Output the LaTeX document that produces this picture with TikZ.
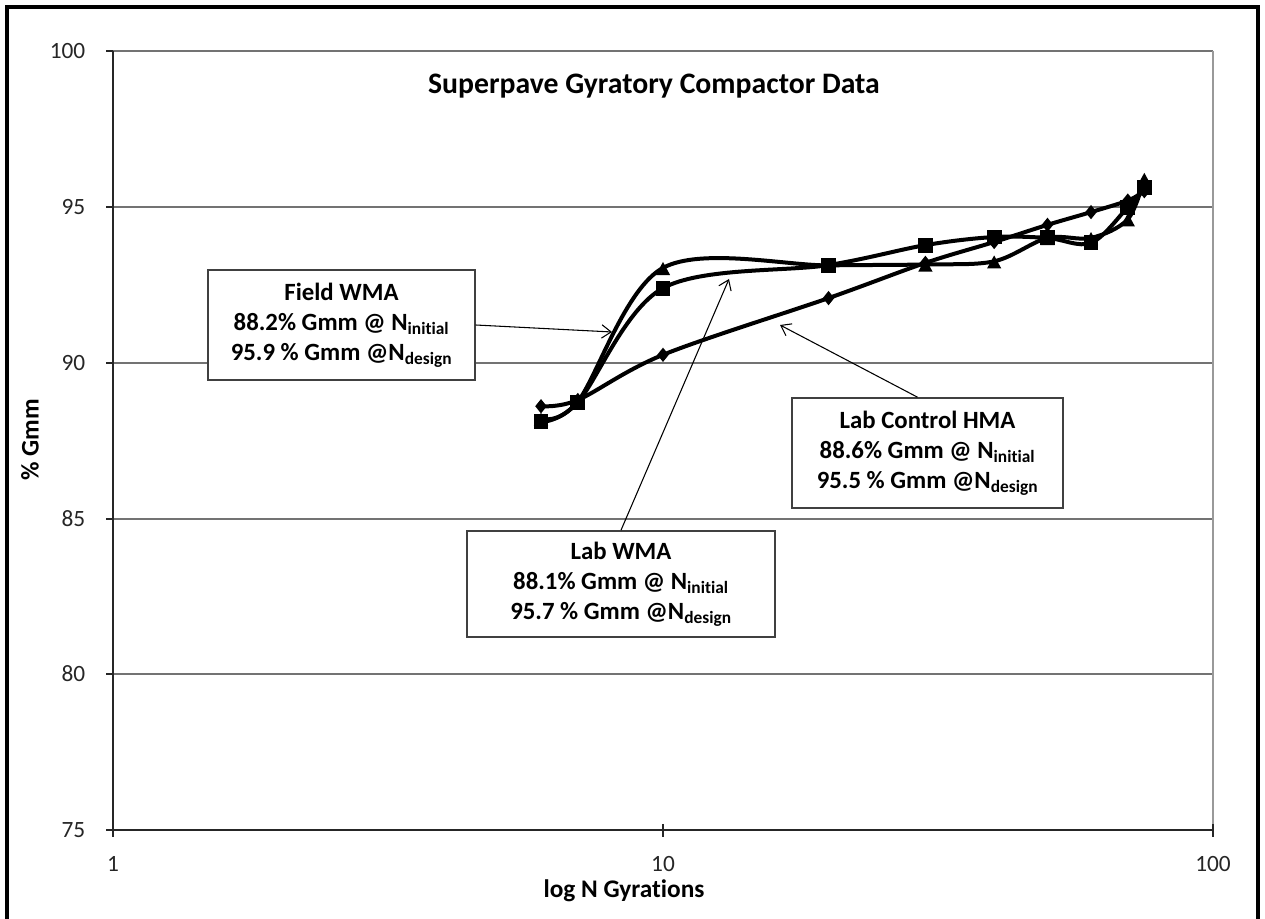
\documentclass[tikz,border=0pt]{standalone}
\usepackage{fontspec}
\setmainfont{Carlito}[Ligatures=NoCommon]
\usetikzlibrary{arrows.meta}
\tikzset{
  grid line/.style={draw=black!55, line width=1.6pt},
  axis line/.style={draw=black!85, line width=1.6pt},
  series/.style={line width=3pt, black, line join=round, line cap=round},
  callout/.style={draw=black!75, line width=1.2pt, fill=white, align=center,
    inner sep=0pt, font=\bfseries\fontsize{18.6}{22.5}\selectfont},
  pointer/.style={draw=black, line width=0.8pt, -{Straight Barb[length=7pt,width=10pt,line width=0.8pt]}},
  ticklab/.style={font=\fontsize{17.5}{20}\selectfont, text=black!85},
  axtitle/.style={font=\bfseries\fontsize{19}{22}\selectfont},
}
\begin{document}
\begin{tikzpicture}[x=0.75pt,y=-0.75pt]
\useasboundingbox (0,0) rectangle (1265,919);
\fill[white] (0,0) rectangle (1265,919);
% outer frame (bottom edge lies outside the picture)
\draw[line width=3.5pt] (7,940) -- (7,7) -- (1258,7) -- (1258,940);
% grid
\foreach \yy in {51,207,363,519,674} \draw[grid line] (113,\yy) -- (1213,\yy);
\draw[grid line, draw=black!40] (1213,51) -- (1213,830);
% axes
\draw[axis line] (113,51) -- (113,830) -- (1213,830);
\foreach \yy in {51,207,363,519,674,830} \draw[axis line] (106,\yy) -- (113,\yy);
\foreach \xx in {113,663,1213} \draw[axis line] (\xx,824) -- (\xx,837);
% tick labels
\node[ticklab, anchor=east] (y100) at (90,51) {100};
\node[ticklab, anchor=east] (y95) at (90,207) {95};
\node[ticklab, anchor=east] (y90) at (90,363) {90};
\node[ticklab, anchor=east] (y85) at (90,519) {85};
\node[ticklab, anchor=east] (y80) at (90,674) {80};
\node[ticklab, anchor=east] (y75) at (90,830) {75};
\node[ticklab] (x1) at (113,864) {1};
\node[ticklab] (x10) at (663,864) {10};
\node[ticklab] (x100) at (1213,864) {100};
% titles
\node[axtitle] (xtitle) at (624,891) {log N Gyrations};
\node[axtitle, rotate=90] (ytitle) at (30,440) {\% Gmm};
\node[font=\bfseries\fontsize{22.3}{26}\selectfont] (title) at (654,86) {Superpave Gyratory Compactor Data};
% data
\begin{scope}[shift={(113,3167)}, x=412.5pt, y=23.37pt]
  \draw[series] plot[smooth, tension=0.55] coordinates {
    (0.7782,88.6) (0.8451,88.8) (1,90.25) (1.3010,92.07) (1.4771,93.2)
    (1.6021,93.87) (1.6990,94.42) (1.7782,94.83) (1.8451,95.2) (1.8751,95.5)};
  \draw[series] plot[smooth, tension=0.55] coordinates {
    (0.7782,88.2) (0.8451,88.75) (1,93.04) (1.3010,93.12) (1.4771,93.15)
    (1.6021,93.25) (1.6990,94.0) (1.7782,94.0) (1.8451,94.6) (1.8751,95.9)};
  \draw[series] plot[smooth, tension=0.55] coordinates {
    (0.7782,88.1) (0.8451,88.73) (1,92.39) (1.3010,93.13) (1.4771,93.77)
    (1.6021,94.03) (1.6990,94.0) (1.7782,93.84) (1.8451,94.99) (1.8751,95.63)};
  \foreach \p in {(0.7782,88.6),(0.8451,88.8),(1,90.25),(1.3010,92.07),(1.4771,93.2),
    (1.6021,93.87),(1.6990,94.42),(1.7782,94.83),(1.8451,95.2),(1.8751,95.5)}
    \fill \p ++(0,0.23) -- ++(0.0105,-0.23) -- ++(-0.0105,-0.23) -- ++(-0.0105,0.23) -- cycle;
  \foreach \p in {(0.7782,88.2),(0.8451,88.75),(1,93.04),(1.3010,93.12),(1.4771,93.15),
    (1.6021,93.25),(1.6990,94.0),(1.7782,94.0),(1.8451,94.6),(1.8751,95.9)}
    \fill \p ++(0,0.19) -- ++(0.013,-0.42) -- ++(-0.026,0) -- cycle;
  \foreach \p in {(0.7782,88.1),(0.8451,88.73),(1,92.39),(1.3010,93.13),(1.4771,93.77),
    (1.6021,94.03),(1.6990,94.0),(1.7782,93.84),(1.8451,94.99),(1.8751,95.63)}
    \fill \p ++(-0.0135,-0.24) rectangle ++(0.027,0.48);
\end{scope}
% call-outs
\node[callout, minimum width=200pt, minimum height=82.5pt] (fieldbox) at (341.5,325)
  {Field WMA\\88.2\% Gmm @ N\textsubscript{initial}\\95.9 \% Gmm @N\textsubscript{design}};
\node[callout, minimum width=231pt, minimum height=79.5pt] (labbox) at (621,584)
  {Lab WMA\\88.1\% Gmm @ N\textsubscript{initial}\\95.7 \% Gmm @N\textsubscript{design}};
\node[callout, minimum width=203pt, minimum height=82.5pt] (ctrlbox) at (927.5,453)
  {Lab Control HMA\\88.6\% Gmm @ N\textsubscript{initial}\\95.5 \% Gmm @N\textsubscript{design}};
\coordinate (fieldtip) at (612,332);
\coordinate (labtip) at (729,279);
\coordinate (ctrltip) at (780,325);
\draw[pointer] (fieldbox.east) -- (fieldtip);
\draw[pointer] (labbox.north) -- (labtip);
\draw[pointer] ([xshift=-7.5pt]ctrlbox.north) -- (ctrltip);
\end{tikzpicture}
\end{document}
